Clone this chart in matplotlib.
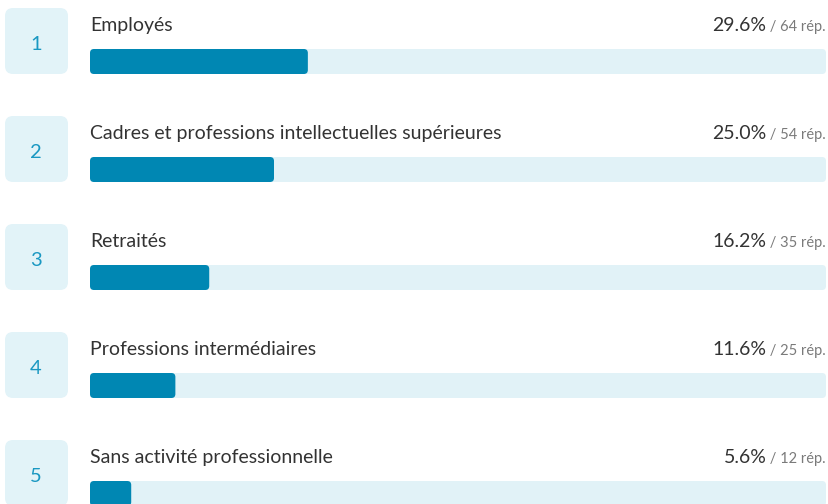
import matplotlib.pyplot as plt
from matplotlib.patches import FancyBboxPatch

# Données
ranks = [1, 2, 3, 4, 5]
labels = ['Employés',
          'Cadres et professions intellectuelles supérieures',
          'Retraités',
          'Professions intermédiaires',
          'Sans activité professionnelle']
percents = [29.6, 25.0, 16.2, 11.6, 5.6]
counts = [64, 54, 35, 25, 12]

W, H = 829, 504
row_step = 108
track_x0, track_x1 = 90, 826

plt.rcParams['font.family'] = ['Lato', 'DejaVu Sans']

fig = plt.figure(figsize=(W / 100, H / 100), dpi=100)
ax = fig.add_axes([0, 0, 1, 1])
ax.set_xlim(0, W)
ax.set_ylim(H, 0)
ax.axis('off')

renderer = fig.canvas.get_renderer()

for i, (rank, label, pct, n) in enumerate(zip(ranks, labels, percents, counts)):
    top = 8 + i * row_step

    # case du rang
    ax.add_patch(FancyBboxPatch((5, top), 63, 66, boxstyle='round,pad=0,rounding_size=8',
                                fc='#e2f3f8', ec='none'))
    ax.text(36, top + 37, str(rank), ha='center', va='center', fontsize=14.5, color='#1a98c2')

    # libellé
    ax.text(track_x0, top + 23, label, ha='left', va='baseline', fontsize=14, color='#333333')

    # piste et barre
    ax.add_patch(FancyBboxPatch((track_x0, top + 41), track_x1 - track_x0, 25,
                                boxstyle='round,pad=0,rounding_size=4', fc='#e1f2f7', ec='none'))
    bar_w = pct / 100 * (track_x1 - track_x0)
    ax.add_patch(FancyBboxPatch((track_x0, top + 41), bar_w, 25,
                                boxstyle='round,pad=0,rounding_size=4', fc='#0087b3', ec='none'))

    # pourcentage et nombre de réponses
    small = ax.text(track_x1, top + 23, f' / {n} rép.', ha='right', va='baseline',
                    fontsize=10.5, color='#7a7a7a')
    bb = small.get_window_extent(renderer)
    ax.text(bb.x0, top + 23, f'{pct:.1f}%', ha='right', va='baseline', fontsize=14, color='#333333')

fig.savefig('out.png', dpi=100)
